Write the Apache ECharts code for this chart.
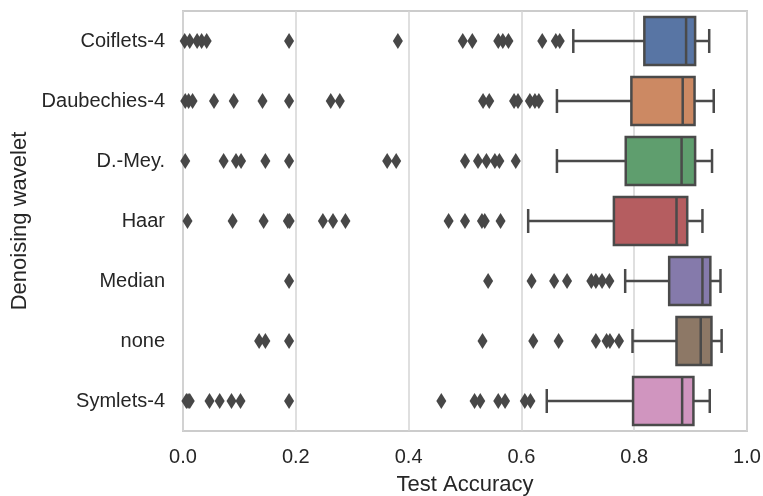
<!DOCTYPE html>
<html>
<head>
<meta charset="utf-8">
<script src="https://cdn.jsdelivr.net/npm/echarts@6/dist/echarts.min.js"></script>
<style>
  html, body { margin: 0; padding: 0; background: #fff; }
  #chart { width: 763px; height: 496px; }
</style>
</head>
<body>
<div id="chart"></div>
<script>
// categories, top to bottom
var wavelets = ['Coiflets-4', 'Daubechies-4', 'D.-Mey.', 'Haar', 'Median', 'none', 'Symlets-4'];
var boxColors = ['#5875a4', '#cc8963', '#5f9e6e', '#b55d60', '#857aab', '#8d7866', '#d095bf'];

// box statistics
var whiskerLow  = [0.692, 0.663, 0.663, 0.612, 0.784, 0.797, 0.645];
var q1          = [0.818, 0.795, 0.785, 0.764, 0.862, 0.875, 0.798];
var median      = [0.892, 0.886, 0.884, 0.875, 0.921, 0.918, 0.885];
var q3          = [0.908, 0.907, 0.908, 0.894, 0.935, 0.937, 0.905];
var whiskerHigh = [0.933, 0.941, 0.938, 0.921, 0.953, 0.955, 0.934];

// outliers per category
var outCoiflets = [0.003, 0.012, 0.025, 0.033, 0.042, 0.188, 0.381, 0.496, 0.513, 0.559, 0.567, 0.577, 0.637, 0.661, 0.668];
var outDaubechies = [0.004, 0.010, 0.017, 0.055, 0.090, 0.141, 0.188, 0.262, 0.278, 0.532, 0.543, 0.587, 0.594, 0.615, 0.624, 0.631];
var outDMey = [0.004, 0.072, 0.094, 0.103, 0.146, 0.188, 0.362, 0.378, 0.500, 0.523, 0.538, 0.553, 0.561, 0.590];
var outHaar = [0.008, 0.088, 0.143, 0.186, 0.189, 0.248, 0.266, 0.288, 0.471, 0.500, 0.530, 0.535, 0.563];
var outMedian = [0.188, 0.541, 0.618, 0.658, 0.681, 0.724, 0.732, 0.743, 0.756];
var outNone = [0.135, 0.146, 0.188, 0.531, 0.621, 0.666, 0.732, 0.751, 0.757, 0.773];
var outSymlets = [0.006, 0.009, 0.012, 0.047, 0.065, 0.086, 0.102, 0.188, 0.458, 0.517, 0.527, 0.559, 0.571, 0.606, 0.616];

var outliers = [outCoiflets, outDaubechies, outDMey, outHaar, outMedian, outNone, outSymlets];
var outlierData = [];
for (var i = 0; i < outliers.length; i++) {
  for (var j = 0; j < outliers[i].length; j++) {
    outlierData.push([outliers[i][j], i]);
  }
}
var boxData = wavelets.map(function (w, i) {
  return [i, whiskerLow[i], q1[i], median[i], q3[i], whiskerHigh[i]];
});

var lineColor = '#4a4a4a';
var textColor = '#262626';
var font = 'Liberation Sans, Arial, sans-serif';

function renderBox(params, api) {
  var cat = api.value(0);
  var band = api.size([0, 1])[1];
  var h = band * 0.8;
  var cy = api.coord([0, cat])[1];
  var xl = api.coord([api.value(1), cat])[0];
  var x1 = api.coord([api.value(2), cat])[0];
  var xm = api.coord([api.value(3), cat])[0];
  var x3 = api.coord([api.value(4), cat])[0];
  var xh = api.coord([api.value(5), cat])[0];
  var ls = { stroke: lineColor, lineWidth: 2.5 };
  return {
    type: 'group',
    children: [
      { type: 'line', shape: { x1: xl, y1: cy, x2: x1, y2: cy }, style: ls },
      { type: 'line', shape: { x1: x3, y1: cy, x2: xh, y2: cy }, style: ls },
      { type: 'line', shape: { x1: xl, y1: cy - h / 4, x2: xl, y2: cy + h / 4 }, style: ls },
      { type: 'line', shape: { x1: xh, y1: cy - h / 4, x2: xh, y2: cy + h / 4 }, style: ls },
      { type: 'rect', shape: { x: x1, y: cy - h / 2, width: x3 - x1, height: h },
        style: { fill: boxColors[cat], stroke: lineColor, lineWidth: 2.5 } },
      { type: 'line', shape: { x1: xm, y1: cy - h / 2, x2: xm, y2: cy + h / 2 }, style: ls }
    ]
  };
}

var chart = echarts.init(document.getElementById('chart'));
var option = {
  animation: false,
  backgroundColor: '#ffffff',
  textStyle: { fontFamily: font },
  grid: {
    left: 183, right: 16, top: 11, bottom: 65, outerBoundsMode: 'none',
    show: true, borderColor: '#cccccc', borderWidth: 2, backgroundColor: 'transparent'
  },
  xAxis: {
    type: 'value', min: 0, max: 1, interval: 0.2,
    name: 'Test Accuracy', nameLocation: 'middle', nameGap: 43,
    nameTextStyle: { fontSize: 22, color: textColor, fontFamily: font },
    axisLine: { show: false }, axisTick: { show: false },
    axisLabel: {
      fontSize: 20, color: textColor, margin: 16, fontFamily: font,
      formatter: function (v) { return v.toFixed(1); }
    },
    splitLine: { show: true, lineStyle: { color: '#d4d4d4', width: 1.5 } }
  },
  yAxis: {
    type: 'category', data: wavelets, inverse: true,
    name: 'Denoising wavelet', nameLocation: 'middle', nameGap: 149,
    nameTextStyle: { fontSize: 22, color: textColor, fontFamily: font },
    axisLine: { show: false }, axisTick: { show: false },
    axisLabel: { fontSize: 20, color: textColor, margin: 18, fontFamily: font },
    splitLine: { show: false }
  },
  series: [
    {
      type: 'custom', renderItem: renderBox, data: boxData,
      encode: { x: [1, 2, 3, 4, 5], y: 0 }, z: 2
    },
    {
      type: 'scatter', data: outlierData, symbol: 'diamond', symbolSize: [10, 16],
      itemStyle: { color: '#474747', opacity: 1 }, z: 3
    }
  ]
};
chart.setOption(option);
</script>
</body>
</html>
